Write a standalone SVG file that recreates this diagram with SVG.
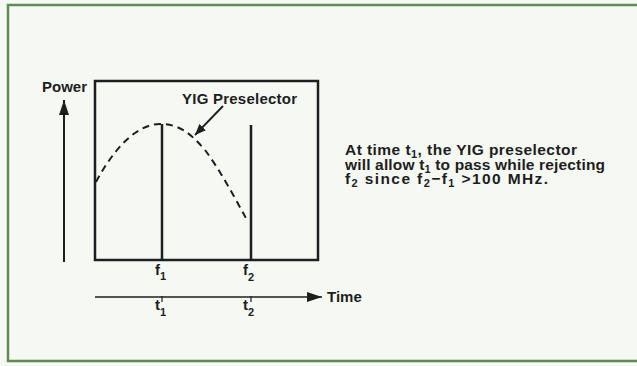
<svg xmlns="http://www.w3.org/2000/svg" width="637" height="366" viewBox="0 0 637 366">
  <defs>
    <style>
      .t { font-family: "Liberation Sans", Arial, sans-serif; font-weight: bold; font-size: 15px; fill: #1e1e1e; }
      .c { font-size: 15.5px; }
      .sub { font-size: 11px; }
      .ln { stroke: #1e1e1e; fill: none; }
    </style>
    <marker id="head" markerWidth="11" markerHeight="9" refX="11" refY="4.5" orient="auto" markerUnits="userSpaceOnUse">
      <path d="M0,0 L11,4.5 L0,9 Z" fill="#1e1e1e"/>
    </marker>
    <marker id="bighead" markerWidth="15" markerHeight="10" refX="15" refY="5" orient="auto" markerUnits="userSpaceOnUse">
      <path d="M0,0 L15,5 L0,10 Z" fill="#1e1e1e"/>
    </marker>
  </defs>

  <rect x="0" y="0" width="637" height="366" fill="#f5f8f3"/>

  <g id="frame">
    <path d="M637,5 H8 V361 H637" fill="none" stroke="#5e8c52" stroke-width="2.5"/>
  </g>

  <g id="plot-box">
    <rect x="95" y="81" width="223" height="179" class="ln" stroke-width="2.5"/>
  </g>

  <g id="signal-f1">
    <line x1="162" y1="124" x2="162" y2="260" class="ln" stroke-width="2.5"/>
  </g>
  <g id="signal-f2">
    <line x1="251" y1="125" x2="251" y2="260" class="ln" stroke-width="2.5"/>
  </g>

  <g id="yig-curve">
    <path d="M96,182 C112,152 135,124 160,124 C180,124 191,134 205,150 C220,170 235,198 248,222" class="ln" stroke-width="2" stroke-dasharray="7,5"/>
  </g>

  <g id="power-axis">
    <line x1="64" y1="262" x2="64" y2="100" class="ln" stroke-width="2" marker-end="url(#bighead)"/>
    <text x="42" y="92" class="t">Power</text>
  </g>

  <g id="time-axis">
    <line x1="95" y1="297" x2="322" y2="297" class="ln" stroke-width="1.6" marker-end="url(#bighead)"/>
    <line x1="162" y1="296" x2="162" y2="302" class="ln" stroke-width="1.2"/>
    <line x1="251" y1="296" x2="251" y2="302" class="ln" stroke-width="1.2"/>
    <text x="327" y="302" class="t">Time</text>
  </g>

  <g id="labels">
    <text x="155" y="275" class="t">f<tspan class="sub" dy="5">1</tspan></text>
    <text x="243" y="275" class="t">f<tspan class="sub" dy="6">2</tspan></text>
    <text x="155" y="310" class="t">t<tspan class="sub" dy="6">1</tspan></text>
    <text x="243" y="310" class="t">t<tspan class="sub" dy="6">2</tspan></text>
    <text x="182" y="104" class="t" textLength="115" lengthAdjust="spacing">YIG Preselector</text>
  </g>

  <g id="connectors">
    <line x1="223" y1="106" x2="195" y2="135" class="ln" stroke-width="1.8" marker-end="url(#head)"/>
  </g>

  <g id="caption">
    <text x="345" y="155" class="t c" textLength="232" lengthAdjust="spacing">At time t<tspan class="sub" dy="3">1</tspan><tspan dy="-3">, the YIG preselector</tspan></text>
    <text x="345" y="170" class="t c" textLength="260" lengthAdjust="spacing">will allow t<tspan class="sub" dy="3">1</tspan><tspan dy="-3"> to pass while rejecting</tspan></text>
    <text x="345" y="184" class="t c" textLength="203" lengthAdjust="spacing">f<tspan class="sub" dy="3">2</tspan><tspan dy="-3"> since f</tspan><tspan class="sub" dy="3">2</tspan><tspan dy="-3">−f</tspan><tspan class="sub" dy="3">1</tspan><tspan dy="-3"> &gt;100 MHz.</tspan></text>
  </g>
</svg>
